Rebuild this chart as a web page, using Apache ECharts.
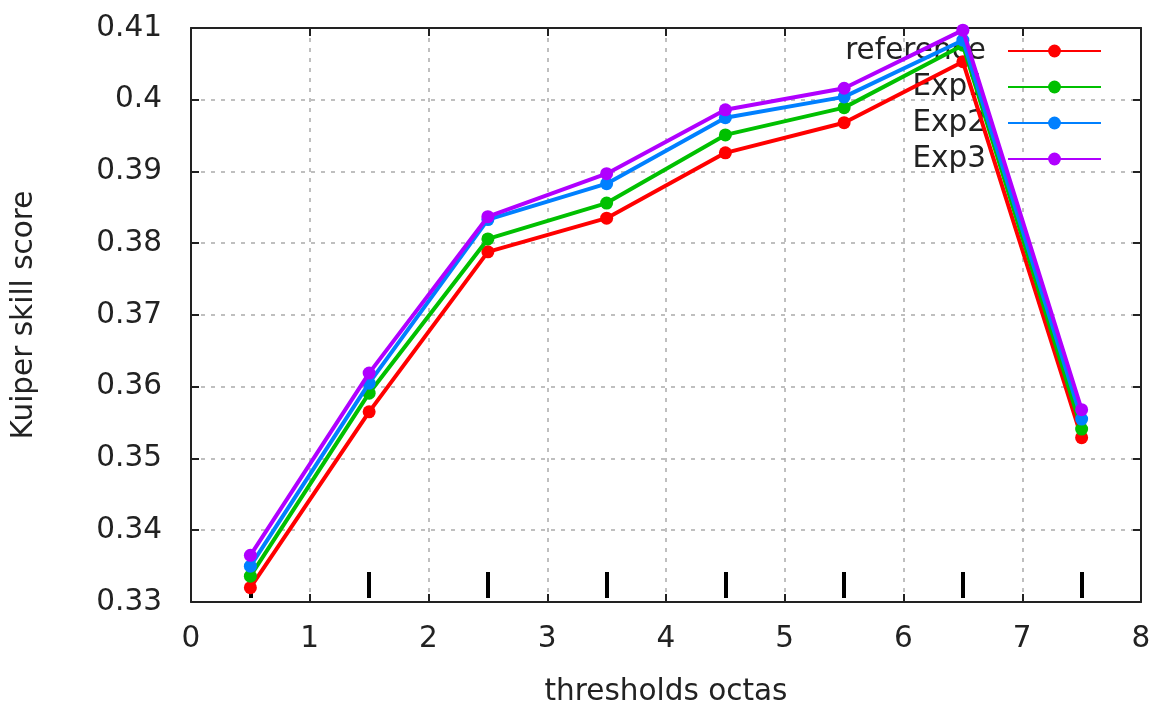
<!DOCTYPE html>
<html>
<head>
<meta charset="utf-8">
<script src="https://cdn.jsdelivr.net/npm/echarts@6/dist/echarts.min.js"></script>
<style>
html,body{margin:0;padding:0;background:#fff;}
#chart{width:1157px;height:703px;}
</style>
</head>
<body>
<div id="chart"></div>
<script>
var thresholds = [0.5, 1.5, 2.5, 3.5, 4.5, 5.5, 6.5, 7.5];
var seriesNames = ['reference', 'Exp1', 'Exp2', 'Exp3'];
var reference = [0.3320, 0.3565, 0.3788, 0.3835, 0.3926, 0.3968, 0.4053, 0.3529];
var exp1      = [0.3336, 0.3591, 0.3806, 0.3856, 0.3951, 0.3989, 0.4076, 0.3541];
var exp2      = [0.3350, 0.3605, 0.3833, 0.3883, 0.3975, 0.4004, 0.4083, 0.3555];
var exp3      = [0.3365, 0.3619, 0.3837, 0.3897, 0.3986, 0.4016, 0.4097, 0.3568];
var markTicks = [0.5, 1.5, 2.5, 3.5, 4.5, 5.5, 6.5, 7.5];
var colors = ['#ff0000', '#00c000', '#0080ff', '#b000ff'];

var FONT = 'DejaVu Sans';
var FS = 29.5;
var values = [reference, exp1, exp2, exp3];

function pairs(v) { return thresholds.map(function (x, i) { return [x, v[i]]; }); }

var txt = { fontFamily: FONT, fontSize: FS, color: '#222' };

var chart = echarts.init(document.getElementById('chart'));
var option = {
  backgroundColor: '#ffffff',
  animation: false,
  textStyle: { fontFamily: FONT },
  grid: { left: 191, right: 16, top: 28, bottom: 101, containLabel: false, outerBoundsMode: 'none' },
  legend: {
    data: seriesNames,
    orient: 'vertical',
    right: 50,
    top: 31,
    align: 'right',
    itemWidth: 93,
    itemHeight: 16,
    itemGap: 6,
    z: 1,
    textStyle: { fontFamily: FONT, fontSize: FS, color: '#222', lineHeight: 30, padding: [0, 17, 0, 0] }
  },
  xAxis: [
    {
      type: 'value', position: 'bottom', min: 0, max: 8, interval: 1,
      axisLine: { show: true, onZero: false, lineStyle: { color: '#222', width: 2 } },
      axisTick: { show: true, inside: true, length: 8, lineStyle: { color: '#222', width: 2 } },
      axisLabel: Object.assign({ margin: 22 }, txt),
      splitLine: { show: true, lineStyle: { color: '#aaaaaa', type: [4, 6], width: 1.5 } },
      name: 'thresholds octas', nameLocation: 'middle', nameGap: 75,
      nameTextStyle: txt
    },
    {
      type: 'value', position: 'top', min: 0, max: 8, interval: 1,
      axisLine: { show: true, onZero: false, lineStyle: { color: '#222', width: 2 } },
      axisTick: { show: true, inside: true, length: 8, lineStyle: { color: '#222', width: 2 } },
      axisLabel: { show: false }, splitLine: { show: false }
    },
    {
      type: 'value', position: 'bottom', min: 0, max: 8, offset: -4,
      axisLine: { show: false },
      axisTick: { show: true, inside: true, length: 26, customValues: markTicks, lineStyle: { color: '#000', width: 4 } },
      axisLabel: { show: false }, splitLine: { show: false }
    }
  ],
  yAxis: [
    {
      type: 'value', position: 'left', min: 0.33, max: 0.41, interval: 0.01,
      axisLine: { show: true, onZero: false, lineStyle: { color: '#222', width: 2 } },
      axisTick: { show: true, inside: true, length: 8, lineStyle: { color: '#222', width: 2 } },
      axisLabel: Object.assign({ margin: 29 }, txt),
      splitLine: { show: true, lineStyle: { color: '#aaaaaa', type: [4, 6], width: 1.5 } },
      name: 'Kuiper skill score', nameLocation: 'middle', nameGap: 152, nameRotate: 90,
      nameTextStyle: txt
    },
    {
      type: 'value', position: 'right', min: 0.33, max: 0.41, interval: 0.01,
      axisLine: { show: true, onZero: false, lineStyle: { color: '#222', width: 2 } },
      axisTick: { show: true, inside: true, length: 8, lineStyle: { color: '#222', width: 2 } },
      axisLabel: { show: false }, splitLine: { show: false }
    }
  ],
  series: seriesNames.map(function (name, i) {
    return {
      name: name, type: 'line', xAxisIndex: 0, yAxisIndex: 0,
      data: pairs(values[i]),
      color: colors[i],
      symbol: 'circle', symbolSize: 13,
      lineStyle: { width: 4, color: colors[i] },
      itemStyle: { color: colors[i] },
      z: 2 + i
    };
  })
};
chart.setOption(option);
</script>
</body>
</html>
